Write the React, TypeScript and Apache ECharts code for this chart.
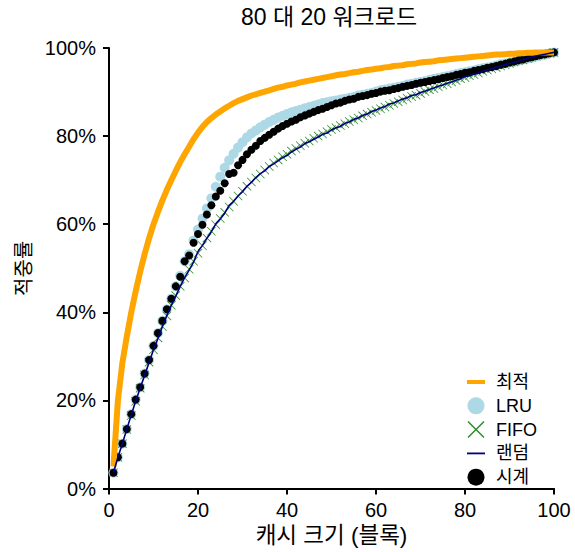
import React, { useEffect, useRef } from "react";
import * as echarts from "echarts";

const title = "80 대 20 워크로드";
const xName = "캐시 크기 (블록)";
const yName = "적중률";
const seriesNames = ["최적", "LRU", "FIFO", "랜덤", "시계"];

const cacheSizes = [
  1, 2, 3, 4, 5, 6, 7, 8, 9, 10, 11, 12, 13, 14, 15, 16, 17, 18, 19, 20,
  21, 22, 23, 24, 25, 26, 27, 28, 29, 30, 31, 32, 33, 34, 35, 36, 37, 38, 39, 40,
  41, 42, 43, 44, 45, 46, 47, 48, 49, 50, 51, 52, 53, 54, 55, 56, 57, 58, 59, 60,
  61, 62, 63, 64, 65, 66, 67, 68, 69, 70, 71, 72, 73, 74, 75, 76, 77, 78, 79, 80,
  81, 82, 83, 84, 85, 86, 87, 88, 89, 90, 91, 92, 93, 94, 95, 96, 97, 98, 99, 100,
];

const optimal = [
  5, 20, 28.5, 34.5, 40, 44.8, 49.2, 53.2, 56.8, 60, 62.8, 65.4, 67.8, 70, 72.1, 74.1, 75.9, 77.6, 79.3, 80.8,
  82.1, 83.2, 84.1, 84.9, 85.6, 86.3, 86.9, 87.5, 88.0, 88.4, 88.8, 89.2, 89.5, 89.8, 90.1, 90.4, 90.7, 91.0, 91.2, 91.5,
  91.7, 91.9, 92.2, 92.4, 92.6, 92.8, 93.0, 93.2, 93.4, 93.6, 93.8, 94.0, 94.1, 94.3, 94.5, 94.6, 94.8, 95.0, 95.1, 95.3,
  95.4, 95.6, 95.7, 95.9, 96.0, 96.1, 96.3, 96.4, 96.5, 96.7, 96.8, 96.9, 97.0, 97.2, 97.3, 97.4, 97.5, 97.6, 97.7, 97.8,
  97.9, 98.0, 98.1, 98.2, 98.3, 98.4, 98.5, 98.5, 98.6, 98.7, 98.7, 98.8, 98.8, 98.9, 98.9, 99.0, 99.0, 99.0, 99.0, 99.0,
];

const lru = [
  3.6, 7.1, 10.2, 13.5, 16.9, 20.2, 23.0, 26.1, 29.2, 32.4, 35.3, 38.1, 40.7, 43.1, 45.9, 48.3, 51.6, 53.2, 56.3, 58.8,
  61.3, 63.6, 65.9, 68.5, 70.8, 72.8, 74.5, 76.0, 77.4, 78.6, 79.7, 80.6, 81.3, 82.0, 82.6, 83.2, 83.7, 84.2, 84.6, 85.0,
  85.4, 85.7, 86.0, 86.3, 86.6, 86.9, 87.2, 87.5, 87.7, 87.9, 88.1, 88.3, 88.5, 88.7, 88.9, 89.2, 89.4, 89.6, 89.8, 90.1,
  90.4, 90.6, 90.8, 91.0, 91.2, 91.4, 91.7, 91.9, 92.1, 92.3, 92.5, 92.8, 93.0, 93.2, 93.4, 93.6, 93.8, 94.1, 94.3, 94.5,
  94.7, 94.9, 95.2, 95.4, 95.6, 95.8, 96.0, 96.3, 96.5, 96.7, 96.9, 97.1, 97.4, 97.6, 97.8, 98.1, 98.3, 98.5, 98.8, 99.0,
];

const fifo = [
  3.6, 7.1, 10.2, 13.4, 16.6, 19.8, 22.8, 25.8, 28.7, 31.5, 34.2, 36.8, 39.2, 41.6, 43.8, 45.9, 47.8, 49.8, 51.6, 53.4,
  55.1, 56.9, 58.4, 59.9, 61.3, 62.7, 63.9, 65.2, 66.4, 67.5, 68.6, 69.6, 70.5, 71.4, 72.3, 73.1, 73.9, 74.6, 75.3, 75.9,
  76.6, 77.2, 77.8, 78.4, 78.9, 79.5, 80.0, 80.5, 81.0, 81.5, 81.9, 82.4, 82.8, 83.3, 83.7, 84.1, 84.6, 85.0, 85.4, 85.8,
  86.2, 86.6, 87.0, 87.4, 87.8, 88.2, 88.6, 89.0, 89.3, 89.7, 90.1, 90.5, 90.8, 91.2, 91.6, 91.9, 92.3, 92.6, 93.0, 93.3,
  93.7, 94.0, 94.3, 94.7, 95.0, 95.3, 95.6, 95.9, 96.2, 96.5, 96.8, 97.1, 97.3, 97.6, 97.9, 98.1, 98.4, 98.6, 98.8, 99.0,
];

const random = [
  3.6, 7.1, 10.2, 13.5, 16.7, 19.9, 22.8, 25.7, 28.6, 31.5, 34.1, 36.8, 39.3, 41.6, 43.7, 45.9, 47.9, 49.6, 51.4, 53.8,
  55.2, 56.8, 58.3, 60.1, 61.2, 62.5, 64.3, 65.2, 66.4, 67.4, 68.6, 69.5, 70.6, 71.5, 72.1, 73.1, 73.7, 74.4, 75.1, 75.6,
  76.4, 77.0, 77.5, 78.3, 78.7, 79.3, 79.8, 80.4, 80.7, 81.4, 81.9, 82.2, 82.9, 83.2, 83.8, 84.1, 84.7, 85.0, 85.6, 85.9,
  86.4, 86.7, 87.3, 87.5, 88.0, 88.4, 88.7, 89.2, 89.4, 89.9, 90.2, 90.6, 90.9, 91.3, 91.6, 92.0, 92.3, 92.7, 93.0, 93.5,
  93.7, 94.1, 94.3, 94.7, 95.0, 95.3, 95.6, 95.9, 96.2, 96.5, 96.8, 97.0, 97.4, 97.6, 97.9, 98.2, 98.4, 98.6, 98.8, 99.0,
];

const clock = [
  3.6, 7.1, 10.2, 13.5, 16.9, 20.2, 23.0, 26.1, 29.2, 32.4, 35.3, 38.1, 40.7, 43.1, 45.9, 48.1, 51.6, 52.9, 55.8, 57.8,
  59.9, 62.2, 64.3, 66.3, 67.6, 69.3, 71.4, 71.7, 73.4, 74.6, 75.9, 76.9, 77.8, 78.9, 79.6, 80.3, 81.0, 81.7, 82.3, 82.8,
  83.3, 83.7, 84.3, 84.7, 85.1, 85.5, 85.9, 86.2, 86.6, 87.0, 87.4, 87.6, 88.0, 88.3, 88.5, 88.9, 89.1, 89.3, 89.6, 89.8,
  90.1, 90.3, 90.4, 90.7, 90.9, 91.2, 91.4, 91.6, 91.9, 92.1, 92.3, 92.5, 92.7, 92.9, 93.2, 93.4, 93.6, 93.9, 94.1, 94.4,
  94.5, 94.8, 95.0, 95.2, 95.5, 95.7, 95.9, 96.2, 96.4, 96.7, 96.9, 97.2, 97.4, 97.7, 97.9, 98.2, 98.4, 98.6, 98.8, 99.0,
];

const FONT = "'Liberation Sans', 'Noto Sans CJK KR', sans-serif";
const CROSS =
  "path://M0,0.6L0.6,0L5,4.4L9.4,0L10,0.6L5.6,5L10,9.4L9.4,10L5,5.6L0.6,10L0,9.4L4.4,5Z";

function pairs(ys: number[]) {
  return cacheSizes.map((x, i) => [x, ys[i]]);
}

export default function App() {
  const ref = useRef<HTMLDivElement>(null);
  useEffect(() => {
    if (!ref.current) return;
    const chart = echarts.init(ref.current, undefined, { renderer: "svg" });
    chart.setOption({
      animation: false,
      backgroundColor: "#ffffff",
      textStyle: { fontFamily: FONT },
      title: {
        text: title,
        left: 329,
        textAlign: "center",
        top: 5,
        padding: 0,
        textStyle: { fontFamily: FONT, fontSize: 23, fontWeight: "normal", color: "#000" },
      },
      grid: { left: 109, right: 21, top: 48, bottom: 58, containLabel: false },
      xAxis: {
        type: "value",
        min: 0,
        max: 100,
        interval: 20,
        name: xName,
        nameLocation: "middle",
        nameGap: 32,
        nameTextStyle: { fontFamily: FONT, fontSize: 22.5, color: "#000" },
        axisLine: { lineStyle: { color: "#000", width: 2 } },
        axisTick: { length: 6, lineStyle: { color: "#000", width: 2 } },
        axisLabel: { margin: 11, fontFamily: FONT, fontSize: 20, color: "#000" },
        splitLine: { show: false },
      },
      yAxis: {
        type: "value",
        min: 0,
        max: 100,
        interval: 20,
        name: yName,
        nameLocation: "middle",
        nameGap: 72,
        nameRotate: 90,
        nameTextStyle: { fontFamily: FONT, fontSize: 20, color: "#000" },
        axisLine: { show: true, lineStyle: { color: "#000", width: 2 } },
        axisTick: { show: true, length: 6, lineStyle: { color: "#000", width: 2 } },
        axisLabel: { margin: 13, fontFamily: FONT, fontSize: 20, color: "#000", formatter: "{value}%" },
        splitLine: { show: false },
      },
      legend: {
        orient: "vertical",
        left: 467,
        top: 373,
        padding: 0,
        itemWidth: 18,
        itemHeight: 17,
        itemGap: 5.8,
        textStyle: { fontFamily: FONT, fontSize: 18, color: "#000", padding: [0, 0, 0, 6] },
        data: [
          { name: seriesNames[0], icon: "path://M0,0h18v4h-18z" },
          { name: seriesNames[1], icon: "circle" },
          { name: seriesNames[2], icon: CROSS },
          { name: seriesNames[3], icon: "path://M0,0h18v1.8h-18z" },
          { name: seriesNames[4], icon: "circle" },
        ],
      },
      series: [
        {
          name: seriesNames[0],
          type: "line",
          data: pairs(optimal),
          showSymbol: false,
          symbol: "none",
          lineStyle: { color: "#FFA500", width: 6 },
          itemStyle: { color: "#FFA500" },
        },
        {
          name: seriesNames[1],
          type: "scatter",
          data: pairs(lru),
          symbol: "circle",
          symbolSize: 10,
          itemStyle: { color: "#ADD8E6", opacity: 1 },
        },
        {
          name: seriesNames[2],
          type: "scatter",
          data: pairs(fifo),
          symbol: CROSS,
          symbolSize: 9,
          itemStyle: { color: "#2b8a2b", opacity: 1 },
        },
        {
          name: seriesNames[3],
          type: "line",
          data: pairs(random),
          showSymbol: false,
          symbol: "none",
          lineStyle: { color: "#000080", width: 1.6 },
          itemStyle: { color: "#000080" },
        },
        {
          name: seriesNames[4],
          type: "scatter",
          data: pairs(clock),
          symbol: "circle",
          symbolSize: 8,
          itemStyle: { color: "#000", opacity: 1 },
        },
      ],
    });
    return () => chart.dispose();
  }, []);
  return (
    <div
      ref={ref}
      style={{ position: "absolute", left: 0, top: 0, width: 575, height: 552 }}
    />
  );
}
